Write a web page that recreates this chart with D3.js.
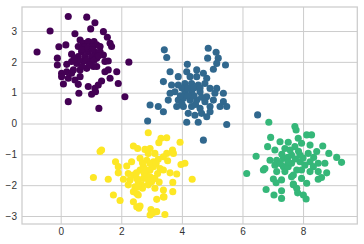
<!DOCTYPE html>
<html>
<head>
<meta charset="utf-8">
<script src="https://cdn.jsdelivr.net/npm/d3@7"></script>
<style>
  body { margin: 0; background: #fff; }
</style>
</head>
<body>
<div id="chart"></div>
<script>
// points, per cluster [x, y]
const cluster0 = [
  [0.25,3.47],[0.86,3.45],[1.13,3.27],[0.99,3.07],[-0.35,3.00],[1.41,2.98],[0.47,2.91],[1.54,2.80],
  [-0.78,2.32],[-0.06,2.49],[0.17,2.55],[1.63,2.60],[1.68,2.50],[0.64,2.71],[0.75,2.60],[0.91,2.66],
  [1.10,2.66],[1.19,2.55],[1.30,2.50],[0.58,2.50],[0.80,2.50],[1.02,2.50],[0.69,2.33],[0.91,2.33],
  [1.13,2.33],[1.30,2.33],[0.36,2.25],[0.58,2.17],[0.80,2.17],[1.02,2.17],[1.19,2.12],[1.41,2.22],
  [-0.11,2.12],[-0.11,1.90],[0.20,1.92],[0.36,2.01],[0.53,1.95],[0.75,2.01],[0.97,2.01],[1.19,1.85],
  [1.46,2.01],[1.57,2.03],[2.25,1.99],[0.03,1.63],[0.03,1.52],[0.20,1.68],[0.42,1.74],[0.64,1.74],
  [0.86,1.79],[1.08,1.85],[1.46,1.68],[1.57,1.74],[1.85,1.68],[0.36,1.63],[0.25,1.47],[0.09,1.28],
  [0.47,1.41],[0.64,1.52],[0.58,1.27],[0.91,1.20],[1.13,1.14],[1.24,1.25],[1.35,1.38],[1.63,1.47],
  [1.90,1.30],[0.60,0.98],[1.02,0.95],[1.15,1.03],[0.25,0.71],[2.12,0.87],[1.26,0.49],
  [0.70,2.40],[0.90,2.45],[1.05,2.40],[0.60,2.05],[0.85,2.05],[1.10,2.05],[1.25,2.20],[0.45,2.10],
  [0.70,1.85],[0.95,1.90]
]
const cluster1 = [
  [3.42,2.39],[3.50,2.14],[4.87,2.44],[5.13,2.31],[4.85,2.12],[5.20,2.12],[5.44,1.90],[5.15,1.95],
  [5.04,1.76],[4.18,1.92],[4.49,1.74],[3.61,1.68],[3.88,1.52],[4.16,1.68],[4.27,1.52],[4.49,1.52],
  [4.71,1.63],[4.82,1.47],[3.39,1.36],[3.66,1.25],[3.88,1.25],[4.10,1.30],[4.32,1.30],[4.54,1.25],
  [4.76,1.30],[4.93,1.14],[5.15,1.14],[3.61,0.98],[3.77,1.03],[4.10,1.03],[4.32,1.03],[4.60,1.03],
  [4.82,0.87],[5.09,0.98],[5.37,0.98],[3.55,0.76],[3.88,0.76],[4.05,0.82],[4.27,0.76],[4.49,0.76],
  [4.76,0.71],[5.04,0.76],[5.37,0.71],[2.95,0.60],[3.22,0.55],[3.39,0.38],[3.83,0.55],[4.05,0.55],
  [4.32,0.55],[4.60,0.49],[4.93,0.55],[5.26,0.55],[5.48,0.55],[4.21,0.33],[4.43,0.27],[4.65,0.33],
  [4.93,0.38],[4.82,0.22],[2.87,0.08],[4.16,0.04],[4.54,0.04],[5.48,-0.03],[4.71,-0.54],[6.50,0.28],
  [4.00,1.15],[4.20,1.15],[4.40,1.15],[4.60,1.15],[4.40,0.90],[4.20,0.90],[3.95,0.90],[4.65,0.85],
  [4.00,0.65],[4.45,0.62]
]
const cluster2 = [
  [6.87,0.04],[7.73,-0.10],[7.77,-0.21],[6.93,-0.45],[7.24,-0.59],[7.51,-0.61],[7.84,-0.48],[8.12,-0.37],
  [8.28,-0.37],[6.83,-0.75],[7.07,-0.86],[7.40,-0.81],[7.73,-0.75],[7.95,-0.64],[8.23,-0.70],[8.65,-0.73],
  [6.45,-1.06],[6.91,-1.19],[7.13,-1.19],[7.35,-1.13],[7.62,-1.02],[7.90,-1.02],[8.17,-0.97],[8.45,-0.91],
  [8.85,-0.97],[9.11,-1.10],[9.27,-1.26],[6.69,-1.51],[6.74,-1.46],[7.07,-1.35],[7.35,-1.40],[7.62,-1.29],
  [7.90,-1.24],[8.23,-1.24],[8.50,-1.29],[8.72,-1.29],[6.14,-1.62],[7.13,-1.56],[7.40,-1.56],[7.68,-1.67],
  [7.95,-1.51],[8.23,-1.56],[8.50,-1.56],[8.78,-1.60],[7.02,-1.80],[7.29,-1.83],[7.62,-1.73],[7.95,-1.78],
  [8.50,-1.81],[8.61,-1.75],[6.78,-2.14],[7.04,-2.32],[7.29,-2.18],[7.29,-2.43],[7.68,-1.99],[7.79,-2.10],
  [8.01,-2.32],[8.10,-2.45],[7.11,-1.92],[7.68,-1.96],[7.82,-2.25],[7.51,-1.40],[8.34,-1.40],[7.79,-1.51],
  [8.06,-1.35],[8.12,-1.94],[7.57,-0.86],
  [7.50,-1.10],[7.75,-1.15],[8.00,-1.12],[7.25,-1.30],[7.50,-1.25],[8.35,-1.10],[7.85,-0.90],[7.30,-1.00]
]
const cluster3 = [
  [2.89,-0.30],[3.31,-0.48],[3.50,-0.46],[3.24,-0.62],[3.94,-0.61],[1.30,-0.91],[1.35,-0.86],[2.40,-0.73],
  [2.54,-0.81],[2.78,-0.84],[2.95,-0.81],[2.89,-0.97],[3.11,-0.97],[3.50,-0.97],[3.69,-0.86],[3.72,-0.97],
  [3.39,-1.08],[1.81,-1.24],[1.90,-1.40],[2.18,-1.38],[2.34,-1.24],[2.62,-1.13],[2.84,-1.19],[3.06,-1.24],
  [3.22,-1.16],[3.53,-1.21],[4.10,-1.29],[3.97,-1.33],[1.90,-1.60],[2.23,-1.62],[2.40,-1.67],[2.62,-1.51],
  [2.84,-1.51],[3.06,-1.40],[3.28,-1.46],[3.39,-1.51],[3.61,-1.60],[3.83,-1.64],[1.08,-1.75],[1.57,-1.81],
  [2.07,-1.81],[2.29,-1.83],[2.51,-1.78],[2.73,-1.78],[2.95,-1.73],[3.11,-1.78],[4.34,-1.81],[2.23,-1.99],
  [2.45,-2.05],[2.67,-1.99],[2.89,-1.99],[3.11,-2.10],[3.70,-1.91],[1.74,-2.32],[1.96,-2.50],[2.40,-2.21],
  [2.56,-2.32],[3.17,-2.46],[3.39,-2.16],[3.41,-2.38],[3.70,-2.21],[2.40,-2.54],[2.51,-2.70],[2.58,-2.75],
  [2.98,-2.79],[3.00,-2.92],[2.95,-2.97],[3.17,-2.86],[3.44,-2.95],[2.73,-1.40],[2.95,-1.51],[2.84,-1.67],
  [2.56,-1.89],[3.00,-1.89],[2.51,-2.27],[2.62,-2.68],[3.08,-2.88],[3.39,-2.38],
  [2.70,-1.28],[2.95,-1.30],[3.15,-1.30],[2.50,-1.60],[2.75,-1.60],[3.20,-1.62],[2.90,-1.85],[3.25,-1.90],
  [2.70,-2.10],[2.55,-2.05]
]
const clusters = [cluster0, cluster1, cluster2, cluster3]
const xTicks = [0, 2, 4, 6, 8]
const yTicks = [-3, -2, -1, 0, 1, 2, 3]

const width = 364
const height = 244
const margin = {top: 7, right: 6.7, bottom: 20, left: 22}

const x = d3.scaleLinear()
  .domain([-1.277, 9.79])
  .range([margin.left, width - margin.right])
const y = d3.scaleLinear()
  .domain([-3.26, 3.78])
  .range([height - margin.bottom, margin.top])
const color = d3.scaleSequential(d3.interpolateViridis).domain([0, 3])

const svg = d3.select('#chart').append('svg')
  .attr('width', width)
  .attr('height', height)
  .attr('font-family', '"Liberation Sans", Arial, sans-serif')
  .attr('font-size', 10)

// grid + tick labels
svg.append('g')
  .attr('transform', `translate(0,${height - margin.bottom})`)
  .call(d3.axisBottom(x).tickValues(xTicks).tickSize(-(height - margin.top - margin.bottom)).tickPadding(4))
  .call(g => g.select('.domain').remove())
  .call(g => g.selectAll('line').attr('stroke', '#cccccc'))
  .call(g => g.selectAll('text').attr('fill', '#333').attr('font-size', 10))

svg.append('g')
  .attr('transform', `translate(${margin.left},0)`)
  .call(d3.axisLeft(y).tickValues(yTicks).tickSize(-(width - margin.left - margin.right)).tickPadding(5)
    .tickFormat(d => d < 0 ? '\u2212' + Math.abs(d) : d))
  .call(g => g.select('.domain').remove())
  .call(g => g.selectAll('line').attr('stroke', '#cccccc'))
  .call(g => g.selectAll('text').attr('fill', '#333').attr('font-size', 10))

svg.append('rect')
  .attr('x', margin.left)
  .attr('y', margin.top)
  .attr('width', width - margin.left - margin.right)
  .attr('height', height - margin.top - margin.bottom)
  .attr('fill', 'none')
  .attr('stroke', '#cccccc')
  .attr('stroke-width', 1.25)

const points = clusters.flatMap((pts, k) => pts.map(p => ({x: p[0], y: p[1], k})))

svg.append('g')
  .selectAll('circle')
  .data(points)
  .join('circle')
  .attr('cx', d => x(d.x))
  .attr('cy', d => y(d.y))
  .attr('r', 3.55)
  .attr('fill', d => color(d.k))
</script>
</body>
</html>
